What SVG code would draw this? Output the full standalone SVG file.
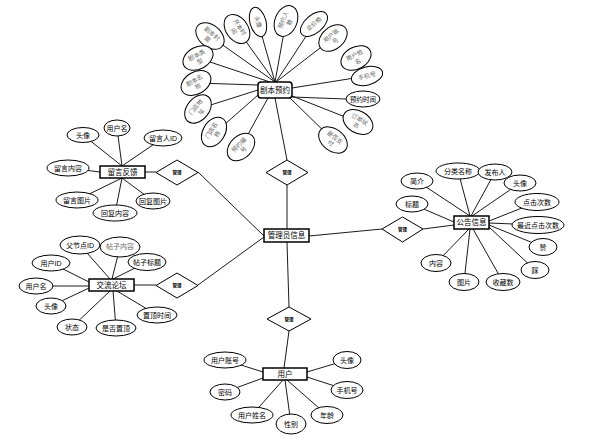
<svg xmlns="http://www.w3.org/2000/svg" width="610" height="440" viewBox="0 0 610 440">
<style>
.bg{fill:#fff}
.ln line{stroke:#000;stroke-width:0.9}
ellipse{fill:#fff;stroke:#000;stroke-width:1}
.ent{fill:#fff;stroke:#000;stroke-width:1.5}
.dia{fill:#fff;stroke:#000;stroke-width:1}
text{font-family:"Liberation Sans","Noto Sans CJK SC",sans-serif;font-size:7px;text-anchor:middle;dominant-baseline:central;fill:#000}
.g{font-size:6px;fill:#666;font-family:"Liberation Serif","Noto Sans CJK SC",serif}
.e{font-size:7.5px}
.d{font-size:4.5px;font-weight:bold}
</style>
<rect class="bg" width="610" height="440"/>
<g id="connectors" class="ln">
<!-- 剧本预约 -->
<line x1="210" y1="36" x2="275" y2="82"/>
<line x1="237" y1="29" x2="275" y2="82"/>
<line x1="258" y1="22" x2="275" y2="82"/>
<line x1="286" y1="21" x2="275" y2="82"/>
<line x1="314" y1="24" x2="276" y2="82"/>
<line x1="333" y1="38" x2="276" y2="82"/>
<line x1="367" y1="76" x2="292" y2="88"/>
<line x1="346" y1="99" x2="292" y2="97"/>
<line x1="358" y1="122" x2="292" y2="96"/>
<line x1="333" y1="140" x2="290" y2="98"/>
<line x1="241" y1="147" x2="268" y2="98"/>
<line x1="216" y1="132" x2="258" y2="95"/>
<line x1="198" y1="109" x2="258" y2="90"/>
<line x1="196" y1="83" x2="258" y2="85"/>
<line x1="198" y1="58" x2="270" y2="82"/>
<line x1="275" y1="98" x2="287" y2="160"/>
<line x1="287" y1="185" x2="287" y2="229"/>
<!-- 留言反馈 -->
<line x1="83" y1="135" x2="122" y2="166"/>
<line x1="117" y1="128" x2="122" y2="166"/>
<line x1="163" y1="138" x2="122" y2="166"/>
<line x1="68" y1="168" x2="100" y2="172"/>
<line x1="77" y1="200" x2="122" y2="178"/>
<line x1="115" y1="213" x2="122" y2="178"/>
<line x1="153" y1="201" x2="122" y2="178"/>
<line x1="145" y1="172" x2="156" y2="172"/>
<line x1="198" y1="172" x2="264" y2="236"/>
<!-- 交流论坛 -->
<line x1="80" y1="245" x2="110" y2="279"/>
<line x1="120" y1="247" x2="112" y2="279"/>
<line x1="147" y1="262" x2="113" y2="279"/>
<line x1="51" y1="263" x2="89" y2="282"/>
<line x1="36" y1="286" x2="89" y2="286"/>
<line x1="51" y1="306" x2="89" y2="288"/>
<line x1="72" y1="327" x2="110" y2="291"/>
<line x1="116" y1="328" x2="113" y2="291"/>
<line x1="157" y1="315" x2="117" y2="291"/>
<line x1="134" y1="285" x2="156" y2="285"/>
<line x1="198" y1="285" x2="264" y2="237"/>
<!-- 公告信息 -->
<line x1="309" y1="236" x2="382" y2="229"/>
<line x1="423" y1="229" x2="454" y2="225"/>
<line x1="417" y1="181" x2="470" y2="216"/>
<line x1="458" y1="171" x2="470" y2="216"/>
<line x1="495" y1="172" x2="471" y2="216"/>
<line x1="520" y1="183" x2="472" y2="216"/>
<line x1="537" y1="202" x2="489" y2="221"/>
<line x1="538" y1="225" x2="489" y2="223"/>
<line x1="543" y1="247" x2="489" y2="225"/>
<line x1="535" y1="270" x2="489" y2="227"/>
<line x1="503" y1="282" x2="473" y2="229"/>
<line x1="464" y1="282" x2="470" y2="229"/>
<line x1="436" y1="263" x2="469" y2="229"/>
<line x1="412" y1="204" x2="454" y2="222"/>
<!-- 用户 -->
<line x1="287" y1="242" x2="289" y2="307"/>
<line x1="289" y1="331" x2="284" y2="368"/>
<line x1="225" y1="360" x2="263" y2="372"/>
<line x1="225" y1="392" x2="263" y2="378"/>
<line x1="252" y1="415" x2="283" y2="380"/>
<line x1="291" y1="424" x2="285" y2="380"/>
<line x1="327" y1="415" x2="287" y2="380"/>
<line x1="347" y1="390" x2="307" y2="377"/>
<line x1="347" y1="360" x2="307" y2="372"/>
</g>

<!-- relationship diamonds -->
<g id="rel-script"><polygon class="dia" points="287,160 308,172.5 287,185 266,172.5"/><text class="d" x="287" y="172.5">管理</text></g>
<g id="rel-feedback"><polygon class="dia" points="177,160 198,172.5 177,185 156,172.5"/><text class="d" x="177" y="172.5">管理</text></g>
<g id="rel-forum"><polygon class="dia" points="177,273 198,285.5 177,298 156,285.5"/><text class="d" x="177" y="285.5">管理</text></g>
<g id="rel-notice"><polygon class="dia" points="402.5,217 423,229 402.5,242 382,229"/><text class="d" x="402.5" y="229.5">管理</text></g>
<g id="rel-user"><polygon class="dia" points="289,307 311,319 289,331 267,319"/><text class="d" x="289" y="319">管理</text></g>

<!-- 剧本预约 -->
<g id="script-booking"><rect class="ent" x="258" y="82" width="34" height="16" rx="3"/><text class="e" x="275" y="90">剧本预约</text></g>
<g id="sb-attr1" transform="translate(210,36) rotate(40)"><ellipse rx="16" ry="11"/><text class="g" y="-3">剧本封</text><text class="g" y="4">面</text></g>
<g id="sb-attr2" transform="translate(237,29) rotate(55)"><ellipse rx="16" ry="11"/><text class="g" y="-3">开本时</text><text class="g" y="4">间</text></g>
<g id="sb-attr3" transform="translate(258,22) rotate(75)"><ellipse rx="15" ry="8"/><text class="g">头像</text></g>
<g id="sb-attr4" transform="translate(286,21) rotate(-68)"><ellipse rx="16" ry="11"/><text class="g" y="-3">预约人</text><text class="g" y="4">数</text></g>
<g id="sb-attr5" transform="translate(314,24) rotate(-40)"><ellipse rx="16" ry="9"/><text class="g">总价格</text></g>
<g id="sb-attr6" transform="translate(333,38) rotate(-40)"><ellipse rx="16" ry="11"/><text class="g" y="-3">用户账</text><text class="g" y="4">号</text></g>
<g id="sb-attr7" transform="translate(356,58) rotate(-28)"><ellipse rx="16" ry="11"/><text class="g" y="-3">用户姓</text><text class="g" y="4">名</text></g>
<g id="sb-attr8" transform="translate(367,76) rotate(-15)"><ellipse rx="16" ry="9"/><text class="g">手机号</text></g>
<g id="sb-attr9"><ellipse cx="363" cy="99" rx="17" ry="8"/><text x="363" y="99" style="font-size:6.5px">预约时间</text></g>
<g id="sb-attr10" transform="translate(358,122) rotate(30)"><ellipse rx="16" ry="11"/><text class="g" y="-3">订单状</text><text class="g" y="4">态</text></g>
<g id="sb-attr11" transform="translate(333,140) rotate(38)"><ellipse rx="16" ry="11"/><text class="g" y="-3">是否支</text><text class="g" y="4">付</text></g>
<g id="sb-attr12" transform="translate(241,147) rotate(-45)"><ellipse rx="16" ry="11"/><text class="g" y="-3">预约编</text><text class="g" y="4">号</text></g>
<g id="sb-attr13" transform="translate(214,132) rotate(-58)"><ellipse rx="16" ry="11"/><text class="g" y="-3">门店名</text><text class="g" y="4">称</text></g>
<g id="sb-attr14" transform="translate(198,109) rotate(-50)"><ellipse rx="16" ry="11"/><text class="g" y="-3">门店地</text><text class="g" y="4">址</text></g>
<g id="sb-attr15" transform="translate(196,83) rotate(-30)"><ellipse rx="16" ry="11"/><text class="g" y="-3">剧本名</text><text class="g" y="4">称</text></g>
<g id="sb-attr16" transform="translate(198,58) rotate(-28)"><ellipse rx="16" ry="11"/><text class="g" y="-3">剧本类</text><text class="g" y="4">型</text></g>

<!-- 留言反馈 -->
<g id="feedback"><rect class="ent" x="100" y="166" width="45" height="12"/><text class="e" x="122.5" y="172">留言反馈</text></g>
<g id="fb-a1"><ellipse cx="83" cy="135" rx="16" ry="7.5"/><text x="83" y="135">头像</text></g>
<g id="fb-a2"><ellipse cx="117" cy="128" rx="13" ry="8"/><text x="117" y="128">用户名</text></g>
<g id="fb-a3"><ellipse cx="163" cy="138" rx="19" ry="8"/><text x="163" y="138">留言人ID</text></g>
<g id="fb-a4"><ellipse cx="68" cy="168" rx="21" ry="8"/><text x="68" y="168">留言内容</text></g>
<g id="fb-a5"><ellipse cx="77" cy="200" rx="21" ry="8"/><text x="77" y="200">留言图片</text></g>
<g id="fb-a6"><ellipse cx="115" cy="213" rx="22" ry="8"/><text x="115" y="213">回复内容</text></g>
<g id="fb-a7"><ellipse cx="153" cy="201" rx="17" ry="8"/><text x="153" y="201">回复图片</text></g>

<!-- 交流论坛 -->
<g id="forum"><rect class="ent" x="89" y="279" width="45" height="12"/><text class="e" x="111.5" y="285">交流论坛</text></g>
<g id="fo-a1"><ellipse cx="80" cy="245" rx="20" ry="9"/><text x="80" y="245">父节点ID</text></g>
<g id="fo-a2"><ellipse cx="120" cy="247" rx="20" ry="10"/><text x="120" y="247" style="fill:#666;font-family:'Liberation Serif','Noto Sans CJK SC',serif">帖子内容</text></g>
<g id="fo-a3"><ellipse cx="147" cy="262" rx="19" ry="8.5"/><text x="147" y="262">帖子标题</text></g>
<g id="fo-a4"><ellipse cx="51" cy="263" rx="19" ry="8"/><text x="51" y="263">用户ID</text></g>
<g id="fo-a5"><ellipse cx="36" cy="286" rx="17" ry="8"/><text x="36" y="286">用户名</text></g>
<g id="fo-a6"><ellipse cx="51" cy="306" rx="15" ry="8"/><text x="51" y="306">头像</text></g>
<g id="fo-a7"><ellipse cx="72" cy="327" rx="15" ry="8"/><text x="72" y="327">状态</text></g>
<g id="fo-a8"><ellipse cx="116" cy="328" rx="20" ry="8"/><text x="116" y="328">是否置顶</text></g>
<g id="fo-a9"><ellipse cx="157" cy="315" rx="20" ry="8"/><text x="157" y="315">置顶时间</text></g>

<!-- 管理员信息 -->
<g id="admin"><rect class="ent" x="264" y="229" width="45" height="13"/><text class="e" x="286.5" y="235.5">管理员信息</text></g>

<!-- 公告信息 -->
<g id="notice"><rect class="ent" x="454" y="216" width="35" height="13"/><text class="e" x="471.5" y="222.5">公告信息</text></g>
<g id="no-a1"><ellipse cx="417" cy="181" rx="16" ry="8"/><text x="417" y="181">简介</text></g>
<g id="no-a2"><ellipse cx="458" cy="171" rx="22" ry="8"/><text x="458" y="171">分类名称</text></g>
<g id="no-a3"><ellipse cx="495" cy="172" rx="17" ry="8"/><text x="495" y="172">发布人</text></g>
<g id="no-a4"><ellipse cx="520" cy="183" rx="16" ry="8"/><text x="520" y="183">头像</text></g>
<g id="no-a5"><ellipse cx="537" cy="202" rx="22" ry="8.5"/><text x="537" y="202">点击次数</text></g>
<g id="no-a6"><ellipse cx="538" cy="225" rx="26" ry="8.5"/><text x="538" y="225">最近点击次数</text></g>
<g id="no-a7"><ellipse cx="543" cy="247" rx="14" ry="8.5"/><text x="543" y="247">赞</text></g>
<g id="no-a8"><ellipse cx="535" cy="270" rx="14" ry="8.5"/><text x="535" y="270">踩</text></g>
<g id="no-a9"><ellipse cx="503" cy="282" rx="17" ry="8.5"/><text x="503" y="282">收藏数</text></g>
<g id="no-a10"><ellipse cx="464" cy="282" rx="15" ry="8.5"/><text x="464" y="282">图片</text></g>
<g id="no-a11"><ellipse cx="436" cy="263" rx="15" ry="8.5"/><text x="436" y="263">内容</text></g>
<g id="no-a12"><ellipse cx="412" cy="204" rx="16" ry="8"/><text x="412" y="204">标题</text></g>

<!-- 用户 -->
<g id="user"><rect class="ent" x="263" y="368" width="44" height="12"/><text class="e" x="285" y="374">用户</text></g>
<g id="us-a1"><ellipse cx="225" cy="360" rx="21" ry="8"/><text x="225" y="360">用户账号</text></g>
<g id="us-a2"><ellipse cx="225" cy="392" rx="15" ry="8"/><text x="225" y="392">密码</text></g>
<g id="us-a3"><ellipse cx="252" cy="415" rx="21" ry="8"/><text x="252" y="415">用户姓名</text></g>
<g id="us-a4"><ellipse cx="291" cy="424" rx="15" ry="10"/><text x="291" y="424">性别</text></g>
<g id="us-a5"><ellipse cx="327" cy="415" rx="16" ry="8.5"/><text x="327" y="415">年龄</text></g>
<g id="us-a6"><ellipse cx="347" cy="390" rx="16" ry="8.5"/><text x="347" y="390">手机号</text></g>
<g id="us-a7"><ellipse cx="347" cy="360" rx="14" ry="8.5"/><text x="347" y="360">头像</text></g>
</svg>
